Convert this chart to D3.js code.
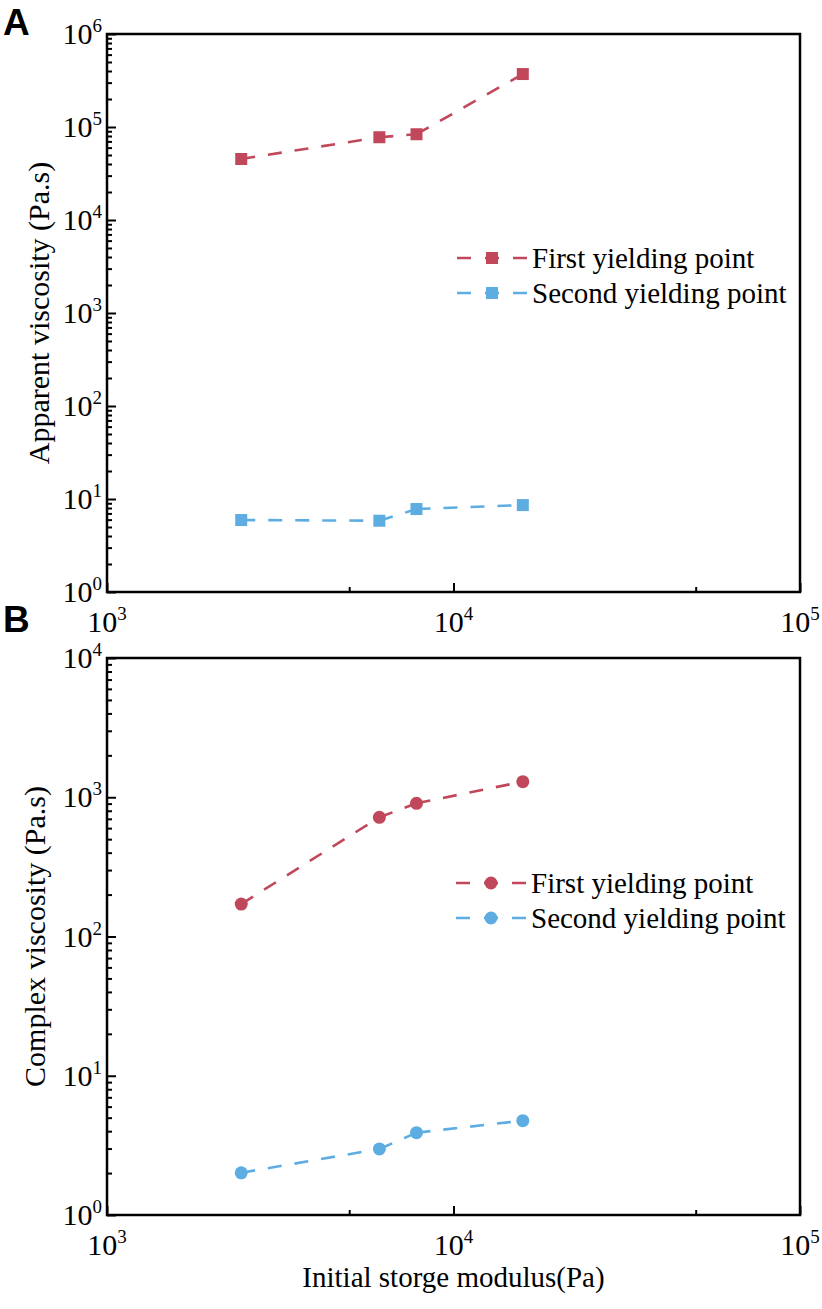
<!DOCTYPE html>
<html>
<head>
<meta charset="utf-8">
<script src="https://cdn.jsdelivr.net/npm/d3@7"></script>
<style>
body { margin: 0; background: #fff; }
text { font-family: "Liberation Serif", "Times New Roman", serif; fill: #000; }
</style>
</head>
<body>
<script>
// Initial storage modulus (Pa), same for both panels
var modulus = [2440, 6110, 7820, 15850];

// Panel A: apparent viscosity (Pa.s)
var apparentFirst = [45300, 77600, 83600, 371000];
var apparentSecond = [5.94, 5.84, 7.8, 8.6];

// Panel B: complex viscosity (Pa.s)
var complexFirst = [171, 718, 905, 1294];
var complexSecond = [2.01, 2.98, 3.9, 4.76];

var seriesNames = ["First yielding point", "Second yielding point"];
var xTickExps = [3, 4, 5];
var apparentTickExps = [0, 1, 2, 3, 4, 5, 6];
var complexTickExps = [0, 1, 2, 3, 4];

WIDTH = 822;
HEIGHT = 1309;
LEFT = 107;
RIGHT = 800;
var RED = "#c1485a";
var BLUE = "#5dade2";

var svg = d3.select("body").append("svg")
    .attr("width", WIDTH)
    .attr("height", HEIGHT);

svg.append("rect").attr("width", WIDTH).attr("height", HEIGHT).attr("fill", "#fff");

// "10" with a superscript exponent
function powLabel(sel, x, y, exp, anchor) {
    var t = sel.append("text")
        .attr("x", x)
        .attr("y", y)
        .attr("text-anchor", anchor)
        .attr("font-size", 30);
    t.append("tspan").text("10");
    t.append("tspan").attr("dy", -12).attr("font-size", 19).text(exp);
}

function drawPanel(opt) {
    var xScale = d3.scaleLog().domain([1e3, 1e5]).range([LEFT, RIGHT]);
    var yMax = Math.pow(10, opt.exps[opt.exps.length - 1]);
    var yScale = d3.scaleLog().domain([1, yMax]).range([opt.bottom, opt.top]);

    var g = svg.append("g");

    // minor ticks on y: 2..9 in each decade
    var yMinor = [];
    for (var e = 0; e < opt.exps.length - 1; e++) {
        for (var m = 2; m <= 9; m++) yMinor.push(m * Math.pow(10, e));
    }
    var yMajor = opt.exps.map(function(d) { return Math.pow(10, d); });
    var xMajor = xTickExps.map(function(d) { return Math.pow(10, d); });
    var xMinor = [5e3, 5e4];

    g.append("g").attr("class", "y_minor")
        .attr("transform", "translate(" + LEFT + ",0)")
        .call(d3.axisLeft(yScale).tickValues(yMinor).tickSize(-5).tickFormat(""));
    g.append("g").attr("class", "y_major")
        .attr("transform", "translate(" + LEFT + ",0)")
        .call(d3.axisLeft(yScale).tickValues(yMajor).tickSize(-9).tickFormat(""));
    g.append("g").attr("class", "x_minor")
        .attr("transform", "translate(0," + opt.bottom + ")")
        .call(d3.axisBottom(xScale).tickValues(xMinor).tickSize(-5).tickFormat(""));
    g.append("g").attr("class", "x_major")
        .attr("transform", "translate(0," + opt.bottom + ")")
        .call(d3.axisBottom(xScale).tickValues(xMajor).tickSize(-9).tickFormat(""));

    g.selectAll(".domain").remove();
    g.selectAll(".tick line").attr("stroke", "#000").attr("stroke-width", 2);

    // frame
    g.append("rect")
        .attr("x", LEFT)
        .attr("y", opt.top)
        .attr("width", RIGHT - LEFT)
        .attr("height", opt.bottom - opt.top)
        .attr("fill", "none")
        .attr("stroke", "#000")
        .attr("stroke-width", 2.5);

    // tick labels
    opt.exps.forEach(function(d) {
        powLabel(g, LEFT - 5, yScale(Math.pow(10, d)) + 10, d, "end");
    });
    xTickExps.forEach(function(d) {
        powLabel(g, xScale(Math.pow(10, d)), opt.bottom + 40, d, "middle");
    });

    // y title
    g.append("text")
        .attr("transform", "translate(" + opt.titleX + "," + ((opt.top + opt.bottom) / 2) + ") rotate(-90)")
        .attr("text-anchor", "middle")
        .attr("font-size", 30)
        .text(opt.yTitle);

    // panel letter
    g.append("text")
        .attr("x", 3)
        .attr("y", opt.letterY)
        .attr("font-weight", "bold")
        .attr("font-size", 37)
        .style("font-family", "'Liberation Sans', Arial, sans-serif")
        .text(opt.letter);

    var colors = [RED, BLUE];
    [opt.first, opt.second].forEach(function(vals, k) {
        var pts = modulus.map(function(m, i) { return [xScale(m), yScale(vals[i])]; });
        // each segment restarts its dash pattern at the point
        d3.pairs(pts).forEach(function(p) {
            g.append("path")
                .attr("d", d3.line()(p))
                .attr("fill", "none")
                .attr("stroke", colors[k])
                .attr("stroke-width", 2.6)
                .attr("stroke-dasharray", "14,13");
        });
        drawMarkers(g, pts, opt.marker, colors[k]);

        // legend row
        var ly = opt.legendY + k * 35;
        g.append("path")
            .attr("d", d3.line()([[opt.legendX, ly], [opt.legendX + 70, ly]]))
            .attr("fill", "none")
            .attr("stroke", colors[k])
            .attr("stroke-width", 2.6)
            .attr("stroke-dasharray", "14,14");
        drawMarkers(g, [[opt.legendX + 35, ly]], opt.marker, colors[k]);
        g.append("text")
            .attr("x", opt.legendX + 75)
            .attr("y", ly + 10)
            .attr("font-size", 29)
            .text(seriesNames[k]);
    });
}

function drawMarkers(g, pts, type, color) {
    if (type == "square") {
        g.selectAll(null).data(pts).enter().append("rect")
            .attr("x", function(d) { return d[0] - 6; })
            .attr("y", function(d) { return d[1] - 6; })
            .attr("width", 12)
            .attr("height", 12)
            .attr("fill", color);
    } else {
        g.selectAll(null).data(pts).enter().append("circle")
            .attr("cx", function(d) { return d[0]; })
            .attr("cy", function(d) { return d[1]; })
            .attr("r", 6.5)
            .attr("fill", color);
    }
}

drawPanel({
    top: 34, bottom: 592,
    exps: apparentTickExps,
    first: apparentFirst, second: apparentSecond,
    marker: "square",
    yTitle: "Apparent viscosity (Pa.s)", titleX: 49,
    letter: "A", letterY: 35,
    legendX: 457, legendY: 258
});

drawPanel({
    top: 658, bottom: 1215,
    exps: complexTickExps,
    first: complexFirst, second: complexSecond,
    marker: "circle",
    yTitle: "Complex viscosity (Pa.s)", titleX: 45,
    letter: "B", letterY: 632,
    legendX: 456, legendY: 883
});

// shared x title
svg.append("text")
    .attr("x", (LEFT + RIGHT) / 2)
    .attr("y", 1287)
    .attr("text-anchor", "middle")
    .attr("font-size", 29)
    .text("Initial storge modulus(Pa)");
</script>
</body>
</html>
